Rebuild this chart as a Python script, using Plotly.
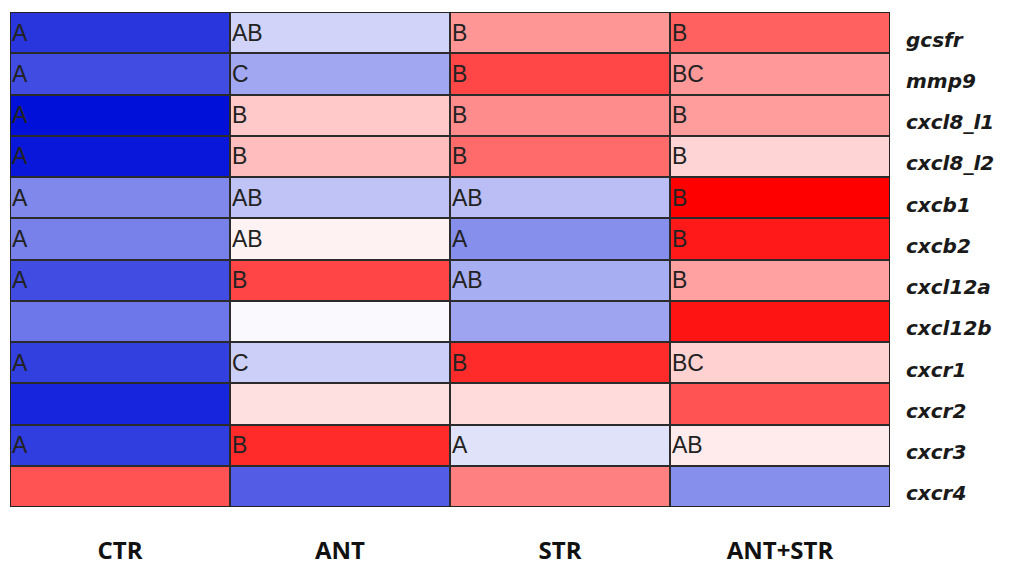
import plotly.graph_objects as go

# Treatment groups (columns) and genes (rows, top to bottom)
groups = ["CTR", "ANT", "STR", "ANT+STR"]
genes = ["gcsfr", "mmp9", "cxcl8_l1", "cxcl8_l2", "cxcb1", "cxcb2",
         "cxcl12a", "cxcl12b", "cxcr1", "cxcr2", "cxcr3", "cxcr4"]

# Relative expression (row-scaled, -1 = lowest, +1 = highest)
ctr = [-0.84, -0.75, -1.00, -0.97, -0.50, -0.53, -0.75, -0.57, -0.80, -0.91, -0.81, 0.68]
ant = [-0.18, -0.37, 0.21, 0.26, -0.25, 0.05, 0.73, -0.02, -0.20, 0.12, 0.83, -0.68]
strs = [0.41, 0.72, 0.45, 0.58, -0.27, -0.47, -0.34, -0.38, 0.83, 0.14, -0.12, 0.50]
ant_str = [0.62, 0.40, 0.39, 0.17, 1.00, 0.90, 0.37, 0.92, 0.18, 0.68, 0.08, -0.47]

# Significance letters per cell (empty = no test shown)
let_ctr = ["A", "A", "A", "A", "A", "A", "A", "", "A", "", "A", ""]
let_ant = ["AB", "C", "B", "B", "AB", "AB", "B", "", "C", "", "B", ""]
let_str = ["B", "B", "B", "B", "AB", "A", "AB", "", "B", "", "A", ""]
let_ant_str = ["B", "BC", "B", "B", "B", "B", "B", "", "BC", "", "AB", ""]

columns = [ctr, ant, strs, ant_str]
letters = [let_ctr, let_ant, let_str, let_ant_str]

z = [[columns[c][r] for c in range(len(groups))] for r in range(len(genes))]
x_idx = list(range(len(groups)))
y_idx = list(range(len(genes)))

fig = go.Figure(go.Heatmap(
    z=z, x=x_idx, y=y_idx,
    zmin=-1, zmax=1,
    colorscale=[[0, "rgb(0,16,216)"], [0.5, "rgb(255,255,255)"], [1, "rgb(255,0,0)"]],
    showscale=False, xgap=2, ygap=2, hoverinfo="skip",
))

annotations = []
for c in x_idx:
    for r in y_idx:
        txt = letters[c][r]
        if txt:
            annotations.append(dict(
                x=c - 0.5, y=r, xref="x", yref="y", text=txt, showarrow=False,
                xanchor="left", yanchor="middle", xshift=0,
                font=dict(family="Liberation Sans, Arial", size=23, color="#222222"),
            ))

# Gene names to the right of each row
for r, g in enumerate(genes):
    annotations.append(dict(
        x=1, y=r, xref="paper", yref="y", text=g, showarrow=False,
        xanchor="left", yanchor="middle", xshift=14, yshift=-7,
        font=dict(family="DejaVu Sans", size=20, color="#1a1a1a",
                  weight="bold", style="italic"),
    ))

fig.update_layout(
    width=1011, height=567,
    margin=dict(l=10, r=121, t=12, b=60),
    paper_bgcolor="white", plot_bgcolor="#2b2b2b",
    annotations=annotations,
    shapes=[dict(type="rect", xref="x", yref="y", x0=-0.5, x1=len(groups) - 0.5,
                 y0=-0.5, y1=len(genes) - 0.5, line=dict(color="#222222", width=2))],
    xaxis=dict(
        tickmode="array", tickvals=x_idx, ticktext=groups, automargin=False,
        showgrid=False, zeroline=False, showline=False,
        ticks="outside", ticklen=22, tickcolor="rgba(0,0,0,0)",
        tickfont=dict(family="Open Sans, Liberation Sans", size=24, color="#111111", weight="bold"),
        range=[-0.5, len(groups) - 0.5],
    ),
    yaxis=dict(
        range=[len(genes) - 0.5, -0.5], automargin=False,
        showticklabels=False, showgrid=False, zeroline=False, showline=False,
    ),
)

fig.write_html("out.html")
